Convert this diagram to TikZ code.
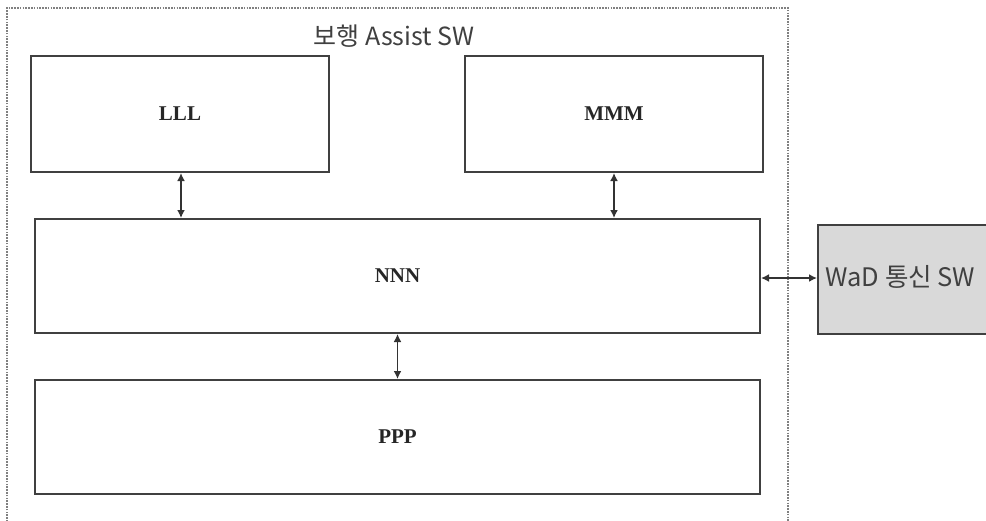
\documentclass[tikz,border=0pt]{standalone}
\usepackage{fontspec}
\setmainfont{Liberation Serif}
\newfontfamily\krfont{Noto Sans CJK KR}
\usetikzlibrary{arrows.meta}
\begin{document}
\begin{tikzpicture}[x=1pt,y=-1pt,
  blk/.style={draw=black!75,line width=2pt,fill=white,inner sep=0pt,font=\bfseries\fontsize{21}{24}\selectfont,text=black!85},
  conn/.style={line width=1.6pt,black!80,{Latex[length=8pt,width=8pt]}-{Latex[length=8pt,width=8pt]}}]
\useasboundingbox (0,0) rectangle (986,520);
\clip (0,0) rectangle (986,520);
\fill[white] (0,0) rectangle (986,520);
% dotted border (open at bottom)
\draw[black!50,line width=2.5pt,dash pattern=on 1.6pt off 1.2pt] (7,530) -- (7,8) -- (788,8) -- (788,530);
\node[font=\krfont\fontsize{25}{28}\selectfont,text=black!75] (title) at (394,36) {보행 Assist SW};
\node[blk,minimum width=298pt,minimum height=116pt] (L) at (180,114) {LLL};
\node[blk,minimum width=298pt,minimum height=116pt] (M) at (614,114) {MMM};
\node[blk,minimum width=725pt,minimum height=114pt] (N) at (397.5,276) {NNN};
\node[blk,minimum width=725pt,minimum height=114pt] (P) at (397.5,437) {PPP};
\node[draw=black!75,line width=2pt,fill=gray!30,minimum width=190pt,minimum height=109pt,inner sep=0pt,anchor=north west] (W) at (817,224) {};
\node[font=\krfont\fontsize{25.5}{28}\selectfont,text=black!75,anchor=west] (wt) at (822,277) {WaD 통신 SW};
\draw[conn] (L.south -| 181,0) -- (N.north -| 181,0);
\draw[conn] (M.south) -- (N.north -| M.south);
\draw[conn] (N.south) -- (P.north);
\draw[conn] (N.east |- 0,278) -- (W.west |- 0,278);
\end{tikzpicture}
\end{document}
